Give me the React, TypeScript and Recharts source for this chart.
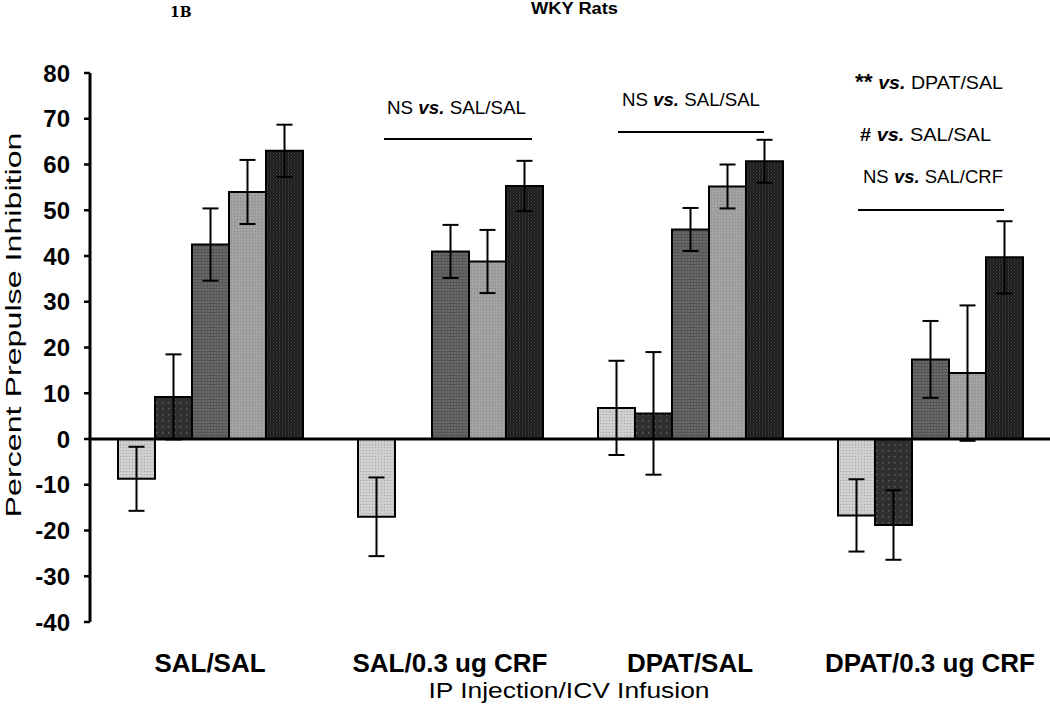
import { BarChart, Bar, XAxis, YAxis, ErrorBar, ReferenceLine } from 'recharts';

const GROUPS = ['SAL/SAL', 'SAL/0.3 ug CRF', 'DPAT/SAL', 'DPAT/0.3 ug CRF'];

// five bars per group, left to right, with SEM
const BAR1 = [-8.7, -17.0, 6.8, -16.7];
const ERR1 = [7.0, 8.6, 10.3, 7.9];
const BAR2 = [9.2, 0, 5.6, -18.8];
const ERR2 = [9.3, 10.8, 13.4, 7.6];
const BAR3 = [42.5, 41.0, 45.8, 17.4];
const ERR3 = [7.9, 5.8, 4.7, 8.4];
const BAR4 = [54.0, 38.8, 55.2, 14.4];
const ERR4 = [7.0, 6.9, 4.8, 14.8];
const BAR5 = [63.0, 55.3, 60.7, 39.7];
const ERR5 = [5.7, 5.5, 4.7, 7.9];

const Y_TICKS = [-40, -30, -20, -10, 0, 10, 20, 30, 40, 50, 60, 70, 80];

const data = GROUPS.map((g, i) => ({
  group: g,
  b1: BAR1[i], e1: ERR1[i],
  b2: BAR2[i], e2: ERR2[i],
  b3: BAR3[i], e3: ERR3[i],
  b4: BAR4[i], e4: ERR4[i],
  b5: BAR5[i], e5: ERR5[i],
}));

const SANS = '"Liberation Sans", Arial, sans-serif';

const SERIES = [
  { key: 'b1', err: 'e1', fill: 'url(#pat1)' },
  { key: 'b2', err: 'e2', fill: 'url(#pat2)' },
  { key: 'b3', err: 'e3', fill: 'url(#pat3)' },
  { key: 'b4', err: 'e4', fill: 'url(#pat4)' },
  { key: 'b5', err: 'e5', fill: 'url(#pat5)' },
];

function XTick({ x, payload }: any) {
  return (
    <text x={x} y={672} textAnchor="middle" fontFamily={SANS} fontSize={26} fontWeight="bold" fill="#000">
      {payload.value}
    </text>
  );
}

function Vs() {
  return <tspan fontWeight="bold" fontStyle="italic">vs.</tspan>;
}

export default function App() {
  return (
    <div style={{ position: 'absolute', left: 0, top: 0, width: 1050, height: 706, background: '#fff' }}>
      <BarChart
        width={1050}
        height={706}
        data={data}
        margin={{ top: 73, right: 0, bottom: 24, left: 0 }}
        barCategoryGap={28}
        barGap={0}
      >
        <defs>
          <pattern id="pat1" width="3" height="3" patternUnits="userSpaceOnUse">
            <rect width="3" height="3" fill="#cfcfcf" />
            <rect width="1" height="1" fill="#a5a5a5" />
          </pattern>
          <pattern id="pat2" width="6" height="6" patternUnits="userSpaceOnUse">
            <rect width="6" height="6" fill="#2f2f2f" />
            <rect width="1.5" height="1.5" fill="#5e5e5e" />
          </pattern>
          <pattern id="pat3" width="3" height="3" patternUnits="userSpaceOnUse">
            <rect width="3" height="3" fill="#6a6a6a" />
            <rect width="3" height="1" fill="#545454" />
            <rect width="1" height="3" fill="#585858" />
          </pattern>
          <pattern id="pat4" width="3" height="3" patternUnits="userSpaceOnUse">
            <rect width="3" height="3" fill="#a2a2a2" />
            <rect width="1" height="1" fill="#858585" />
          </pattern>
          <pattern id="pat5" width="3" height="3" patternUnits="userSpaceOnUse">
            <rect width="3" height="3" fill="#242424" />
            <rect width="3" height="1" fill="#151515" />
            <rect width="1" height="1" fill="#4a4a4a" />
          </pattern>
        </defs>
        <XAxis dataKey="group" axisLine={false} tickLine={false} height={60} tick={<XTick />} interval={0} />
        <YAxis
          domain={[-40, 80]}
          ticks={Y_TICKS}
          interval={0}
          width={90}
          axisLine={{ stroke: '#000', strokeWidth: 3 }}
          tickLine={{ stroke: '#000', strokeWidth: 2.5 }}
          tickSize={6}
          tickMargin={14}
          tick={{ fill: '#000', fontSize: 24, fontWeight: 'bold', fontFamily: SANS }}
        />
        {SERIES.map((s) => (
          <Bar key={s.key} dataKey={s.key} fill={s.fill} stroke="#000" strokeWidth={2} isAnimationActive={false}>
            <ErrorBar dataKey={s.err} width={8} stroke="#000" strokeWidth={2} direction="y" isAnimationActive={false} />
          </Bar>
        ))}
        <ReferenceLine y={0} stroke="#000" strokeWidth={3} />
      </BarChart>

      <svg
        width={1050}
        height={706}
        style={{ position: 'absolute', left: 0, top: 0, pointerEvents: 'none' }}
        fontFamily={SANS}
      >
        <text x={170} y={17} fontFamily='"DejaVu Serif", serif' fontWeight="bold" fontSize={14}>1B</text>
        <text x={531} y={14} fontWeight="bold" fontSize={16} textLength={87} lengthAdjust="spacingAndGlyphs">WKY Rats</text>

        <text
          transform="translate(21,325) rotate(-90)"
          textAnchor="middle"
          fontSize={22}
          textLength={385}
          lengthAdjust="spacingAndGlyphs"
        >
          Percent Prepulse Inhibition
        </text>

        <text x={569} y={698} textAnchor="middle" fontSize={22} textLength={281} lengthAdjust="spacingAndGlyphs">
          IP Injection/ICV Infusion
        </text>

        <text x={387} y={114} fontSize={19} textLength={139} lengthAdjust="spacingAndGlyphs">
          NS <Vs /> SAL/SAL
        </text>
        <line x1={384} x2={532} y1={139} y2={139} stroke="#000" strokeWidth={2} />

        <text x={622} y={106} fontSize={19} textLength={138} lengthAdjust="spacingAndGlyphs">
          NS <Vs /> SAL/SAL
        </text>
        <line x1={618} x2={764} y1={132} y2={132} stroke="#000" strokeWidth={2} />

        <text x={855} y={89} fontSize={19} textLength={148} lengthAdjust="spacingAndGlyphs">
          <tspan fontWeight="bold" fontSize={22}>**</tspan> <Vs /> DPAT/SAL
        </text>
        <text x={860} y={141} fontSize={19} textLength={131} lengthAdjust="spacingAndGlyphs">
          <tspan fontWeight="bold">#</tspan>  <Vs /> SAL/SAL
        </text>
        <text x={863} y={183} fontSize={19} textLength={140} lengthAdjust="spacingAndGlyphs">
          NS <Vs /> SAL/CRF
        </text>
        <line x1={858} x2={1004} y1={210} y2={210} stroke="#000" strokeWidth={2} />
      </svg>
    </div>
  );
}
